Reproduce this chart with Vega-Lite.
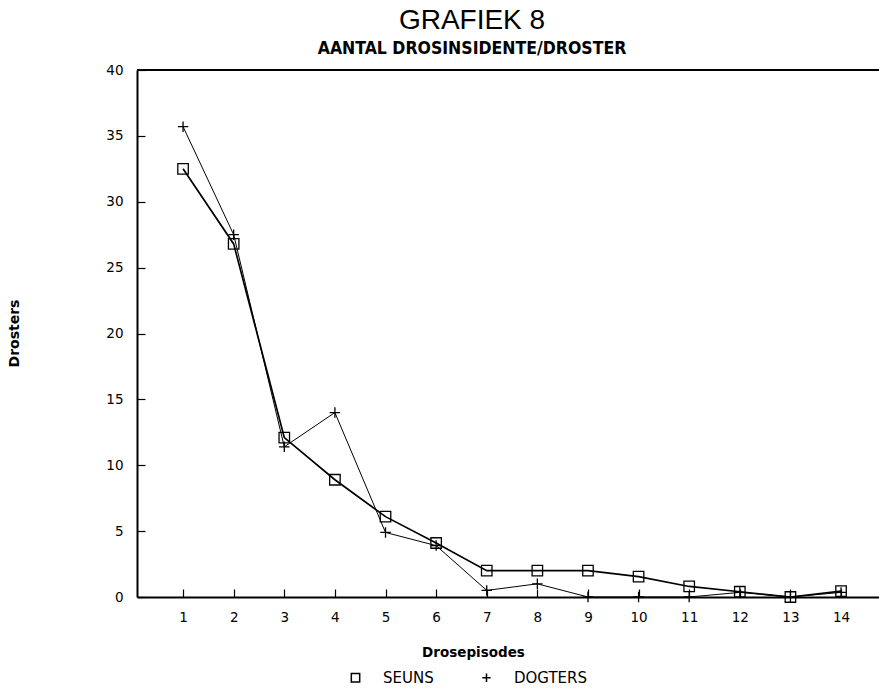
{
  "$schema": "https://vega.github.io/schema/vega-lite/v6.json",
  "autosize": "none",
  "width": 742,
  "height": 527,
  "padding": {"left": 137, "top": 70, "right": 0, "bottom": 91},
  "background": "white",
  "config": {
    "view": {"stroke": null},
    "font": "DejaVu Sans"
  },
  "title": {
    "text": "GRAFIEK 8",
    "subtitle": "AANTAL DROSINSIDENTE/DROSTER",
    "font": "Liberation Sans",
    "fontSize": 28,
    "fontWeight": "normal",
    "color": "black",
    "subtitleFont": "DejaVu Sans Condensed",
    "subtitleFontSize": 17.5,
    "subtitleFontWeight": "bold",
    "subtitleColor": "black",
    "subtitlePadding": 5,
    "offset": 6,
    "dx": -36,
    "anchor": "middle"
  },
  "data": {
    "values": [
      {"ep": 1, "series": "SEUNS", "value": 32.5},
      {"ep": 2, "series": "SEUNS", "value": 26.8},
      {"ep": 3, "series": "SEUNS", "value": 12.1},
      {"ep": 4, "series": "SEUNS", "value": 8.9},
      {"ep": 5, "series": "SEUNS", "value": 6.1},
      {"ep": 6, "series": "SEUNS", "value": 4.1},
      {"ep": 7, "series": "SEUNS", "value": 2.0},
      {"ep": 8, "series": "SEUNS", "value": 2.0},
      {"ep": 9, "series": "SEUNS", "value": 2.0},
      {"ep": 10, "series": "SEUNS", "value": 1.55},
      {"ep": 11, "series": "SEUNS", "value": 0.8},
      {"ep": 12, "series": "SEUNS", "value": 0.4},
      {"ep": 13, "series": "SEUNS", "value": 0},
      {"ep": 14, "series": "SEUNS", "value": 0.45},
      {"ep": 1, "series": "DOGTERS", "value": 35.7},
      {"ep": 2, "series": "DOGTERS", "value": 27.5},
      {"ep": 3, "series": "DOGTERS", "value": 11.4},
      {"ep": 4, "series": "DOGTERS", "value": 14.0},
      {"ep": 5, "series": "DOGTERS", "value": 4.9},
      {"ep": 6, "series": "DOGTERS", "value": 3.9},
      {"ep": 7, "series": "DOGTERS", "value": 0.5},
      {"ep": 8, "series": "DOGTERS", "value": 1.0},
      {"ep": 9, "series": "DOGTERS", "value": 0},
      {"ep": 10, "series": "DOGTERS", "value": 0},
      {"ep": 11, "series": "DOGTERS", "value": 0},
      {"ep": 12, "series": "DOGTERS", "value": 0.35},
      {"ep": 13, "series": "DOGTERS", "value": 0},
      {"ep": 14, "series": "DOGTERS", "value": 0.35}
    ]
  },
  "encoding": {
    "x": {
      "field": "ep",
      "type": "quantitative",
      "scale": {"domain": [0.09, 14.75], "nice": false, "zero": false},
      "axis": {
        "values": [1, 2, 3, 4, 5, 6, 7, 8, 9, 10, 11, 12, 13, 14],
        "title": "Drosepisodes",
        "titleFont": "DejaVu Sans",
        "titleFontSize": 13.5,
        "titleFontWeight": "bold",
        "titleColor": "black",
        "titleX": 336,
        "titleY": 48,
        "labelFont": "DejaVu Sans",
        "labelFontSize": 13.5,
        "labelColor": "black",
        "labelPadding": 21,
        "tickSize": -8,
        "tickColor": "black",
        "tickWidth": 1.2,
        "domainColor": "black",
        "domainWidth": 2,
        "grid": false
      }
    },
    "y": {
      "field": "value",
      "type": "quantitative",
      "scale": {"domain": [0, 40], "nice": false},
      "axis": {
        "values": [0, 5, 10, 15, 20, 25, 30, 35, 40],
        "title": "Drosters",
        "titleFont": "DejaVu Sans",
        "titleFontSize": 14,
        "titleFontWeight": "bold",
        "titleColor": "black",
        "titleAngle": -90,
        "titleX": -123,
        "titleY": 263,
        "titleAlign": "center",
        "titleBaseline": "middle",
        "labelFont": "DejaVu Sans",
        "labelFontSize": 13.5,
        "labelColor": "black",
        "labelPadding": 22,
        "tickSize": -8,
        "tickColor": "black",
        "tickWidth": 1.2,
        "domainColor": "black",
        "domainWidth": 2,
        "grid": false
      }
    }
  },
  "layer": [
    {
      "mark": {"type": "rule", "color": "black", "strokeWidth": 2},
      "encoding": {"y": {"datum": 40}, "x": null}
    },
    {
      "transform": [{"filter": "datum.series === 'SEUNS'"}],
      "mark": {"type": "line", "color": "black", "strokeWidth": 1.7},
      "encoding": {}
    },
    {
      "transform": [{"filter": "datum.series === 'DOGTERS'"}],
      "mark": {"type": "line", "color": "black", "strokeWidth": 1},
      "encoding": {}
    },
    {
      "mark": {"type": "point", "filled": false, "color": "black", "strokeWidth": 1.3, "size": 110, "opacity": 1},
      "encoding": {
        "shape": {
          "field": "series",
          "type": "nominal",
          "scale": {"domain": ["SEUNS", "DOGTERS"], "range": ["square", "M-1,0H1M0,-1V1"]},
          "legend": {
            "title": null,
            "orient": "none",
            "direction": "horizontal",
            "legendX": 211,
            "legendY": 600,
            "labelFont": "DejaVu Sans",
            "labelFontSize": 15,
            "labelColor": "black",
            "labelOffset": 20,
            "columnPadding": 45,
            "symbolSize": 70,
            "symbolStrokeColor": "black",
            "symbolFillColor": "transparent",
            "symbolStrokeWidth": 1.5
          }
        }
      }
    }
  ]
}
